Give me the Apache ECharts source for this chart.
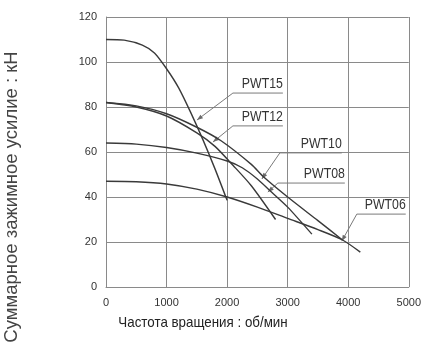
<!DOCTYPE html>
<html><head><meta charset="utf-8">
<script src="https://cdn.jsdelivr.net/npm/echarts@6/dist/echarts.min.js"></script>
<style>html,body{margin:0;padding:0;background:#fff}#c{width:424px;height:351px}</style>
</head><body><div id="c"></div>
<script>
// Tick values
const xTicks = [0, 1000, 2000, 3000, 4000, 5000];
const yTicks = [0, 20, 40, 60, 80, 100, 120];
// Series names
const seriesNames = ['PWT15', 'PWT12', 'PWT10', 'PWT08', 'PWT06'];
// Series values: [speed rpm, force kN]
const pwt15 = [[0,110],[300,109.7],[600,107.5],[800,104],[1000,97],[1200,88.5],[1400,77.5],[1600,65.5],[1800,52.5],[2000,38.5]];
const pwt12 = [[0,82],[500,80],[1000,76],[1500,68.5],[1800,62.5],[2100,54],[2400,45],[2800,30]];
const pwt10 = [[0,82],[500,80.5],[1000,77],[1500,71],[1900,65],[2400,54.5],[2600,49],[3000,40],[3500,29.5],[3900,21]];
const pwt08 = [[0,64],[500,63.5],[1000,62],[1500,59.5],[2000,56],[2250,53],[2500,48],[2700,43],[3000,35.5],[3400,23.5]];
const pwt06 = [[0,47],[500,46.8],[1000,45.8],[1500,43.5],[2000,40],[2500,35.5],[3000,30.5],[3500,25.5],[3900,21],[4200,15.5]];
// Label leader anchors (data units): tip on curve, elbow, underline end x
const labelTips = [[1502,74.2],[1766,64.4],[2574,48],[2673,42.2],[3894,20.4]];
const labelElbows = [[2096,86.2],[2096,71.6],[2871,59.6],[2838,46.2],[4142,32.4]];
const labelEndX = [2921, 2921, 3894, 3944, 4950];

const yTitle = 'Суммарное зажимное усилие : кН';
const xTitle = 'Частота вращения : об/мин';

const chart = echarts.init(document.getElementById('c'), null, {renderer: 'canvas'});
const allData = [pwt15, pwt12, pwt10, pwt08, pwt06];
const gridColor = '#8a8a8a';
const sans = "'Liberation Sans', Arial, sans-serif";

chart.setOption({
  animation: false,
  backgroundColor: '#fff',
  grid: {left: 106, right: 15, top: 17, bottom: 64, containLabel: false},
  xAxis: {
    type: 'value', min: xTicks[0], max: xTicks[xTicks.length-1], interval: 1000,
    axisLine: {show: true, lineStyle: {color: gridColor, width: 1}},
    axisTick: {show: false},
    splitLine: {show: true, lineStyle: {color: gridColor, width: 1}},
    axisLabel: {color: '#333', fontSize: 11, fontFamily: sans, margin: 10, formatter: v => String(v)}
  },
  yAxis: {
    type: 'value', min: yTicks[0], max: yTicks[yTicks.length-1], interval: 20,
    axisLine: {show: true, lineStyle: {color: gridColor, width: 1}},
    axisTick: {show: false},
    splitLine: {show: true, lineStyle: {color: gridColor, width: 1}},
    axisLabel: {color: '#333', fontSize: 11, fontFamily: sans, margin: 9, formatter: v => String(v)}
  },
  series: allData.map((d, i) => ({
    name: seriesNames[i], type: 'line', data: d, showSymbol: false,
    smooth: 0.25,
    lineStyle: {color: '#3a3a3a', width: 1.4}
  }))
});

function buildGraphics() {
  const g = [];
  for (let i = 0; i < seriesNames.length; i++) {
    const tip = chart.convertToPixel({gridIndex: 0}, labelTips[i]);
    const elb = chart.convertToPixel({gridIndex: 0}, labelElbows[i]);
    const end = chart.convertToPixel({gridIndex: 0}, [labelEndX[i], labelElbows[i][1]]);
    g.push({type: 'polyline', shape: {points: [tip, elb, end]}, style: {stroke: '#7a7a7a', lineWidth: 1, fill: null}});
    const dx = elb[0] - tip[0], dy = elb[1] - tip[1];
    const len = Math.hypot(dx, dy), ux = dx / len, uy = dy / len;
    const L = 6, W = 2.2;
    const bx = tip[0] + ux * L, by = tip[1] + uy * L;
    g.push({type: 'polygon', shape: {points: [tip, [bx - uy * W, by + ux * W], [bx + uy * W, by - ux * W]]}, style: {fill: '#6a6a6a'}});
    g.push({type: 'text', x: end[0], y: end[1] - 2, scaleX: 0.82, style: {text: seriesNames[i], fill: '#333', font: '15px ' + sans, textAlign: 'right', textVerticalAlign: 'bottom'}});
  }
  g.push({type: 'text', x: 12, y: 197, rotation: Math.PI / 2, style: {text: yTitle, fill: '#444', font: '18.5px ' + sans, textAlign: 'center', textVerticalAlign: 'middle'}});
  g.push({type: 'text', x: 203, y: 323, scaleX: 0.89, style: {text: xTitle, fill: '#222', font: '15px ' + sans, textAlign: 'center', textVerticalAlign: 'middle'}});
  chart.setOption({graphic: g});
}
buildGraphics();
</script></body></html>
